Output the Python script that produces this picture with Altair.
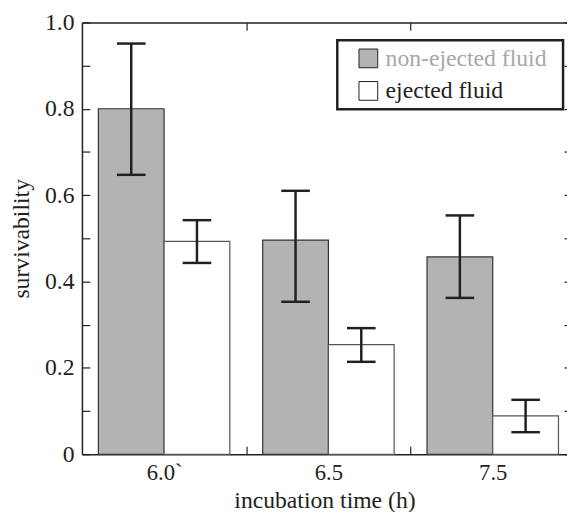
import altair as alt
import pandas as pd

# ---- data ----
times = ["6.0`", "6.5", "7.5"]
series = ["non-ejected fluid", "ejected fluid"]
non_ejected = [0.800, 0.496, 0.457]
non_ejected_lo = [0.647, 0.353, 0.362]
non_ejected_hi = [0.951, 0.610, 0.553]
ejected = [0.493, 0.254, 0.089]
ejected_lo = [0.443, 0.214, 0.051]
ejected_hi = [0.542, 0.292, 0.126]
y_ticks = [0.0, 0.1, 0.2, 0.3, 0.4, 0.5, 0.6, 0.7, 0.8, 0.9, 1.0]
y_labels = [0.0, 0.2, 0.4, 0.6, 0.8, 1.0]

vals = [non_ejected, ejected]
los = [non_ejected_lo, ejected_lo]
his = [non_ejected_hi, ejected_hi]
rows = []
for gi, t in enumerate(times):
    for si, s in enumerate(series):
        rows.append(dict(time=t, series=s, g=gi, s=si,
                         value=vals[si][gi], lo=los[si][gi], hi=his[si][gi]))
df = pd.DataFrame(rows)

# ---- style ----
FONT = "Liberation Serif, DejaVu Serif, serif"
INK = "#231f20"
FS = 24
W, H = 492, 438
GROUP_PX = 166.67
fill_scale = alt.Scale(domain=series, range=["#b3b3b3", "#ffffff"])
stroke_scale = alt.Scale(domain=series, range=["#333333", "#555555"])
legend_text_colors = ["#a6a8ab", INK]

xscale = alt.Scale(domain=[0, W / GROUP_PX], nice=False, zero=False)
yscale = alt.Scale(domain=[0, 1], nice=False)

label_expr_x = "[" + ",".join("'" + t + "'" for t in times) + "][floor(datum.value)]"

base = alt.Chart(df).transform_calculate(
    x0="datum.g + 0.1 + 0.4 * datum.s",
    x1="datum.g + 0.5 + 0.4 * datum.s",
    xc="datum.g + 0.3 + 0.4 * datum.s",
)

bars = base.mark_rect(strokeWidth=1.2).encode(
    x=alt.X("x0:Q", scale=xscale,
            axis=alt.Axis(orient="bottom", values=[0.5, 1.5, 2.5], labelExpr=label_expr_x,
                          ticks=False, domain=True, domainColor=INK, domainWidth=1.5,
                          labelPadding=8, labelFont=FONT, labelFontSize=23, labelColor=INK,
                          title="incubation time (h)", titleFont=FONT, titleFontSize=FS,
                          titleFontWeight="normal", titleColor=INK,
                          titleBaseline="alphabetic", titleY=54, labelFlush=False)),
    x2="x1:Q",
    y=alt.Y("value:Q", scale=yscale,
            axis=alt.Axis(orient="left", values=y_labels,
                          labelExpr="datum.value == 0 ? '0' : format(datum.value, '.1f')",
                          ticks=False, domain=True, domainColor=INK, domainWidth=1.5,
                          labelPadding=8, labelFont=FONT, labelFontSize=FS, labelColor=INK,
                          title="survivability", titleFont=FONT, titleFontSize=FS,
                          titleFontWeight="normal", titleColor=INK, titlePadding=11,
                          labelFlush=False)),
    y2=alt.datum(0),
    fill=alt.Fill("series:N", scale=fill_scale, legend=None),
    stroke=alt.Stroke("series:N", scale=stroke_scale, legend=None),
)

top_frame = base.mark_rect(opacity=0).encode(
    x=alt.X("x0:Q", scale=xscale,
            axis=alt.Axis(orient="top", labels=False, ticks=False, domain=True,
                          domainColor=INK, domainWidth=1.5, title=None)),
    x2="x1:Q",
    y=alt.Y("value:Q", scale=yscale, axis=None),
    y2=alt.datum(0),
)

rules = base.mark_rule(strokeWidth=2.5, color=INK).encode(
    x=alt.X("xc:Q", scale=xscale,
            axis=alt.Axis(orient="bottom", values=[1, 2], offset=-8, tickSize=8,
                          tickColor=INK, tickWidth=1.2, labels=False, domain=False, title=None)),
    y=alt.Y("lo:Q", scale=yscale,
            axis=alt.Axis(orient="left", values=y_ticks, offset=-8, tickSize=8,
                          tickColor=INK, tickWidth=1.2, labels=False, domain=False, title=None)),
    y2="hi:Q",
)

caps = base.transform_fold(["lo", "hi"], as_=["end", "yv"]).mark_tick(
    orient="horizontal", size=29, thickness=2.5, color=INK, opacity=1
).encode(
    x=alt.X("xc:Q", scale=xscale,
            axis=alt.Axis(orient="top", values=[1, 2], offset=-8, tickSize=8,
                          tickColor=INK, tickWidth=1.2, labels=False, domain=False, title=None)),
    y=alt.Y("yv:Q", scale=yscale,
            axis=alt.Axis(orient="right", values=y_ticks, offset=-3, tickSize=3,
                          tickColor=INK, tickWidth=1.2, labels=False, domain=False, title=None)),
)

# ---- legend (drawn inside plot, top right) ----
legend_df = pd.DataFrame({"series": series})
box = alt.Chart(pd.DataFrame({"k": [0]})).mark_rect(
    fill="white", stroke=INK, strokeWidth=2.5
).encode(x=alt.value(259), x2=alt.value(488), y=alt.value(18), y2=alt.value(88))

legend_layers = [box]
for i, s in enumerate(series):
    sq = alt.Chart(legend_df).transform_filter(alt.datum.series == s).mark_square(
        size=361, stroke=INK, strokeWidth=1, opacity=1
    ).encode(
        x=alt.value(290.5), y=alt.value(36.5 + 33 * i),
        fill=alt.Fill("series:N", scale=fill_scale, legend=None),
    )
    tx = alt.Chart(legend_df).transform_filter(alt.datum.series == s).mark_text(
        align="left", baseline="middle", font=FONT, fontSize=FS
    ).encode(
        x=alt.value(308), y=alt.value(37 + 33 * i),
        text="series:N", color=alt.value(legend_text_colors[i]),
    )
    legend_layers += [sq, tx]

chart = alt.layer(bars, top_frame, rules, caps, *legend_layers).resolve_axis(
    x="independent", y="independent"
).properties(
    width=W, height=H,
    autosize=alt.AutoSizeParams(type="none"),
    padding={"left": 75, "top": 11, "right": 0, "bottom": 55},
    background="white",
).configure_axis(grid=False).configure_view(strokeWidth=0)

chart.save("out.html", embed_options={"renderer": "svg", "actions": False})
